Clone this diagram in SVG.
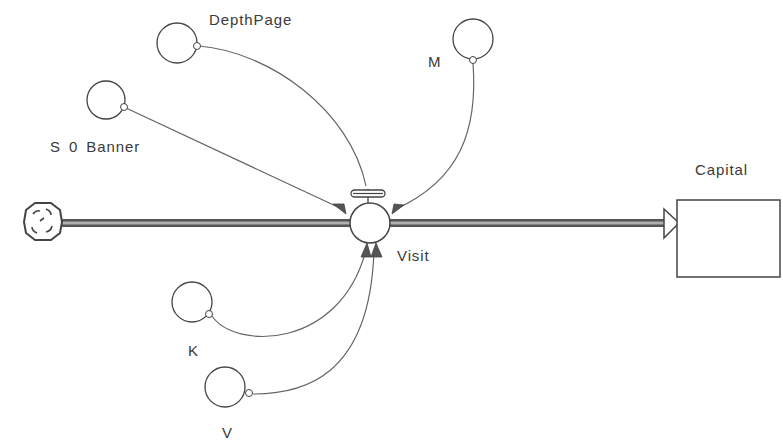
<svg xmlns="http://www.w3.org/2000/svg" width="783" height="443" viewBox="0 0 783 443">
  <style>
    .lbl { font-family: "Liberation Sans", Arial, sans-serif; font-size: 15px; letter-spacing: 0.9px; fill: #3a3a3a; }
    .aux { fill: #fff; stroke: #444; stroke-width: 1.3; }
    .tap { fill: #fff; stroke: #444; stroke-width: 1; }
    .link { fill: none; stroke: #666; stroke-width: 1.2; }
    .head { fill: #555; stroke: #444; stroke-width: 0.8; }
  </style>
  <rect width="783" height="443" fill="#fff"/>

  <!-- flow pipe: source cloud -> Visit valve -> Capital stock -->
  <g id="flow-pipe">
    <line x1="60" y1="223" x2="666" y2="223" stroke="#555" stroke-width="8"/>
    <line x1="60" y1="223" x2="666" y2="223" stroke="#b0b0b0" stroke-width="3"/>
    <polygon points="664,209 679,223 664,238" fill="#fff" stroke="#444" stroke-width="1.5"/>
  </g>

  <!-- source cloud -->
  <g id="source-cloud">
    <path d="M35,203 L51,203 L60,210 L62,222 L60,233 L51,240 L35,240 L26,233 L24,222 L26,210 Z" fill="#fff" stroke="#444" stroke-width="2" stroke-linejoin="round"/>
    <path d="M33,214 q3,-4 7,-3 M46,209 q5,2 5,6 M52,226 q-1,5 -6,6 M37,233 q-5,-2 -5,-6 M40,221 l4,-3" fill="none" stroke="#444" stroke-width="1.6"/>
  </g>

  <!-- connectors -->
  <g id="connectors">
    <path class="link" d="M126,108 L340,208"/>
    <path class="link" d="M199,46 C270,52 350,110 366,186"/>
    <path class="link" d="M473,63 C478,130 460,180 396,209"/>
    <path class="link" d="M212,316 C235,350 340,350 366,250"/>
    <path class="link" d="M253,394 C300,394 370,380 374,250"/>
    <polygon class="head" points="333,204 344,204 346,214"/>
    <polygon class="head" points="392,214 394,204 404,205"/>
    <polygon class="head" points="361,196 375,196 368,189"/>
    <polygon class="head" points="361,257 367,243 371,257"/>
    <polygon class="head" points="371,257 376,243 382,257"/>
  </g>

  <!-- Visit flow valve -->
  <g id="Visit">
    <line x1="368" y1="197" x2="368" y2="203" stroke="#444" stroke-width="1.3"/>
    <rect x="351" y="190" width="34" height="7" rx="3.5" fill="#fff" stroke="#444" stroke-width="1.3"/>
    <line x1="353" y1="193.5" x2="383" y2="193.5" stroke="#444" stroke-width="1.2"/>
    <circle cx="370" cy="223" r="20" fill="#fff" stroke="#444" stroke-width="1.5"/>
    <text class="lbl" x="397" y="261">Visit</text>
  </g>

  <!-- Capital stock -->
  <g id="Capital">
    <rect x="677" y="200" width="103" height="77" fill="#fff" stroke="#444" stroke-width="1.5"/>
    <text class="lbl" x="695" y="175">Capital</text>
  </g>

  <!-- auxiliary variables -->
  <g id="DepthPage">
    <circle class="aux" cx="177" cy="43" r="20"/>
    <circle class="tap" cx="197" cy="46" r="3.5"/>
    <text class="lbl" x="209" y="25">DepthPage</text>
  </g>

  <g id="S0Banner">
    <circle class="aux" cx="106" cy="100" r="19"/>
    <circle class="tap" cx="124" cy="107" r="3.5"/>
    <text class="lbl" x="50" y="152" word-spacing="3">S 0 Banner</text>
  </g>

  <g id="M">
    <circle class="aux" cx="473" cy="39" r="20"/>
    <circle class="tap" cx="473" cy="60" r="3.5"/>
    <text class="lbl" x="428" y="67">M</text>
  </g>

  <g id="K">
    <circle class="aux" cx="192" cy="302" r="20"/>
    <circle class="tap" cx="209" cy="314" r="3.5"/>
    <text class="lbl" x="188" y="356">K</text>
  </g>

  <g id="V">
    <circle class="aux" cx="225" cy="387" r="20"/>
    <circle class="tap" cx="249" cy="393" r="3.5"/>
    <text class="lbl" x="222" y="438">V</text>
  </g>
</svg>
